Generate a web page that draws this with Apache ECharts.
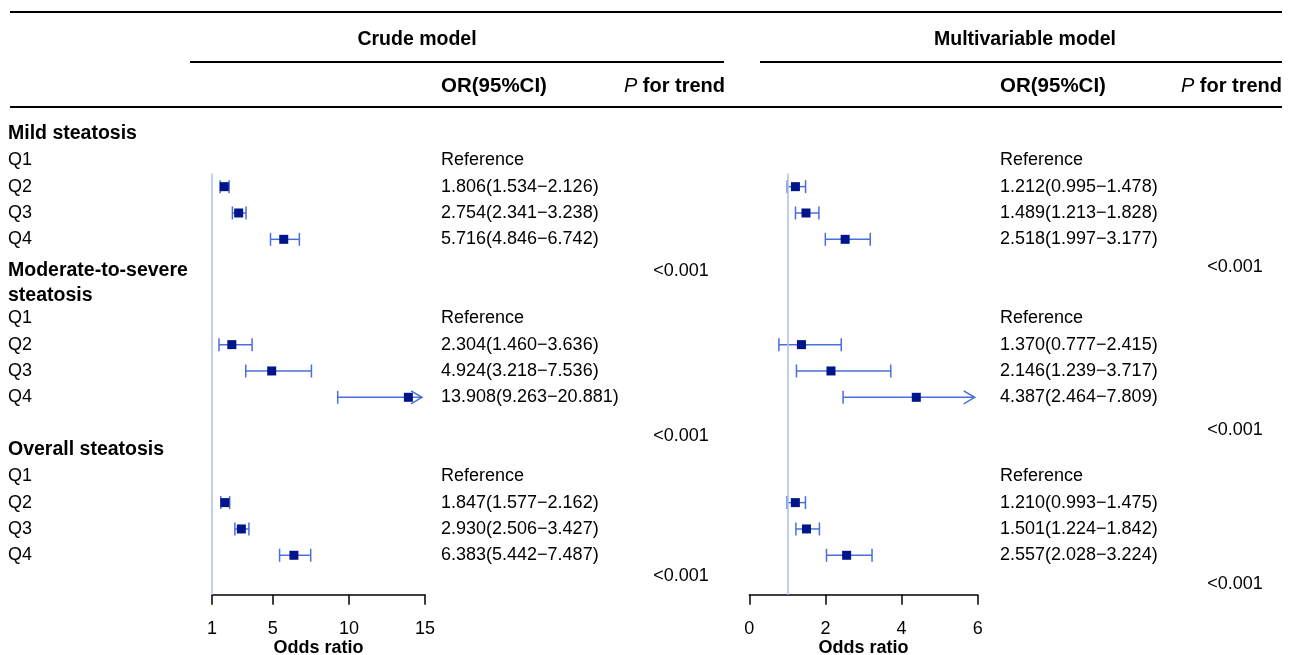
<!DOCTYPE html>
<html>
<head>
<meta charset="utf-8">
<script src="https://cdn.jsdelivr.net/npm/echarts@6/dist/echarts.min.js"></script>
<style>
  html, body { margin: 0; padding: 0; background: #fff; }
  #main { width: 1292px; height: 655px; }
</style>
</head>
<body>
<div id="main"></div>
<script>
// groups and quartiles
const groupNames = ['Mild steatosis', 'Moderate-to-severe\nsteatosis', 'Overall steatosis'];
const quartiles = ['Q1', 'Q2', 'Q3', 'Q4'];

// Q2..Q4 of each group, in order
const crudeOR   = [1.806, 2.754, 5.716, 2.304, 4.924, 13.908, 1.847, 2.930, 6.383];
const crudeLow  = [1.534, 2.341, 4.846, 1.460, 3.218, 9.263, 1.577, 2.506, 5.442];
const crudeHigh = [2.126, 3.238, 6.742, 3.636, 7.536, 20.881, 2.162, 3.427, 7.487];

const multiOR   = [1.212, 1.489, 2.518, 1.370, 2.146, 4.387, 1.210, 1.501, 2.557];
const multiLow  = [0.995, 1.213, 1.997, 0.777, 1.239, 2.464, 0.993, 1.224, 2.028];
const multiHigh = [1.478, 1.828, 3.177, 2.415, 3.717, 7.809, 1.475, 1.842, 3.224];

const pTrendCrude = ['<0.001', '<0.001', '<0.001'];
const pTrendMulti = ['<0.001', '<0.001', '<0.001'];

const crudeTicks = [1, 5, 10, 15];
const multiTicks = [0, 2, 4, 6];

// row layout (row index -> pixel)
const Y0 = 134, RH = 26.33;
const groupRows = [0, 5.66, 12];
const qRows = [[1, 2, 3, 4], [7, 8, 9, 10], [13, 14, 15, 16]];
const pRowsCrude = [5.2, 11.47, 16.8];
const pRowsMulti = [5.05, 11.24, 17.1];
const rowY = k => Y0 + k * RH;

const FONT = '"Liberation Sans", Arial, sans-serif';
const ciColor = '#4a6fdc';
const ptColor = '#00148c';
const refColor = '#a9c2ea';

const chart = echarts.init(document.getElementById('main'));

function fmt(v) { return v.toFixed(3); }

const graphics = [];
function txt(x, y, s, opts) {
  graphics.push({
    type: 'text', silent: true,
    style: Object.assign({
      x: x, y: y, text: s, fill: '#000',
      fontFamily: FONT, fontSize: 18,
      textAlign: 'left', textVerticalAlign: 'middle'
    }, opts || {})
  });
}
function hline(x1, x2, y) {
  graphics.push({
    type: 'line', silent: true,
    shape: { x1: x1, y1: y, x2: x2, y2: y },
    style: { stroke: '#000', lineWidth: 2 }
  });
}

hline(10, 1282, 12);
hline(190, 724, 62);
hline(760, 1282, 62);
hline(10, 1282, 107);

const headStyle = { fontWeight: 'bold', fontSize: 19.5 };
txt(417, 40, 'Crude model', Object.assign({ textAlign: 'center' }, headStyle));
txt(1025, 40, 'Multivariable model', Object.assign({ textAlign: 'center' }, headStyle));
txt(441, 86, 'OR(95%CI)', Object.assign({}, headStyle, { fontSize: 20.5 }));
txt(1000, 86, 'OR(95%CI)', Object.assign({}, headStyle, { fontSize: 20.5 }));
const pHead = { text: '{i|P} for trend', fontWeight: 'bold', fontSize: 20, textAlign: 'right',
  rich: { i: { fontStyle: 'italic', fontWeight: 'normal', fontFamily: FONT, fontSize: 20 } } };
txt(725, 86, '', pHead);
txt(1282, 86, '', pHead);

groupNames.forEach((g, gi) => {
  txt(8, rowY(groupRows[gi]), g, { fontWeight: 'bold', fontSize: 19.5, lineHeight: 25 });
  quartiles.forEach((q, qi) => {
    const y = rowY(qRows[gi][qi]);
    txt(8, y, q);
    if (qi === 0) {
      txt(441, y, 'Reference');
      txt(1000, y, 'Reference');
    } else {
      const i = gi * 3 + qi - 1;
      txt(441, y, fmt(crudeOR[i]) + '(' + fmt(crudeLow[i]) + '\u2212' + fmt(crudeHigh[i]) + ')');
      txt(1000, y, fmt(multiOR[i]) + '(' + fmt(multiLow[i]) + '\u2212' + fmt(multiHigh[i]) + ')');
    }
  });
  txt(681, rowY(pRowsCrude[gi]), pTrendCrude[gi], { textAlign: 'center' });
  txt(1235, rowY(pRowsMulti[gi]), pTrendMulti[gi], { textAlign: 'center' });
});

const markRows = [];
qRows.forEach(r => markRows.push(r[1], r[2], r[3]));

function ciSeries(axisIdx, low, high, xmax) {
  return {
    type: 'custom',
    xAxisIndex: axisIdx, yAxisIndex: axisIdx,
    encode: { x: [0, 1], y: 2 },
    data: low.map((l, i) => [l, high[i], markRows[i]]),
    renderItem: function (params, api) {
      const hi = api.value(1);
      const row = api.value(2);
      const clipped = hi > xmax;
      const p0 = api.coord([api.value(0), row]);
      const p1 = api.coord([Math.min(hi, xmax), row]);
      const tipX = clipped ? p1[0] - 3 : p1[0];
      const st = { stroke: ciColor, lineWidth: 1.5, fill: null };
      const c = 6.5;
      const kids = [
        { type: 'line', shape: { x1: p0[0], y1: p0[1], x2: tipX, y2: p1[1] }, style: st },
        { type: 'line', shape: { x1: p0[0], y1: p0[1] - c, x2: p0[0], y2: p0[1] + c }, style: st }
      ];
      if (clipped) {
        kids.push({ type: 'polyline', shape: { points: [[tipX - 11, p1[1] - 6.5], [tipX, p1[1]], [tipX - 11, p1[1] + 6.5]] }, style: st });
      } else {
        kids.push({ type: 'line', shape: { x1: p1[0], y1: p1[1] - c, x2: p1[0], y2: p1[1] + c }, style: st });
      }
      return { type: 'group', children: kids };
    },
    markLine: {
      silent: true, symbol: 'none', label: { show: false },
      lineStyle: { color: refColor, width: 1.5, type: 'solid' },
      data: [{ xAxis: 1 }]
    },
    z: 2
  };
}

function ptSeries(axisIdx, est) {
  return {
    type: 'scatter',
    xAxisIndex: axisIdx, yAxisIndex: axisIdx,
    symbol: 'rect', symbolSize: 9,
    itemStyle: { color: ptColor, opacity: 1 },
    data: est.map((v, i) => [v, markRows[i]]),
    z: 3
  };
}

function xAxisCfg(gi, min, max, ticks) {
  return {
    gridIndex: gi, type: 'value', min: min, max: max,
    position: 'bottom',
    axisLine: { show: true, onZero: false, lineStyle: { color: '#000', width: 1.5 } },
    axisTick: { show: true, inside: false, length: 10, customValues: ticks, lineStyle: { color: '#000', width: 1.5 } },
    axisLabel: { customValues: ticks, color: '#000', fontSize: 18, fontFamily: FONT, margin: 25 },
    splitLine: { show: false },
    name: 'Odds ratio', nameLocation: 'middle', nameGap: 44, nameMoveOverlap: false,
    nameTextStyle: { color: '#000', fontSize: 18, fontWeight: 'bold', fontFamily: FONT }
  };
}

function yAxisCfg(gi) {
  return {
    gridIndex: gi, type: 'value', min: 1.5, max: 17.5, inverse: true,
    show: false, splitLine: { show: false }
  };
}

const gridTop = rowY(1.5), gridH = 16 * RH;

chart.setOption({
  animation: false,
  textStyle: { fontFamily: FONT },
  grid: [
    { left: 212, width: 213, top: gridTop, height: gridH, containLabel: false, outerBoundsMode: 'none' },
    { left: 749.3, width: 228.4, top: gridTop, height: gridH, containLabel: false, outerBoundsMode: 'none' }
  ],
  xAxis: [xAxisCfg(0, 1, 15, crudeTicks), xAxisCfg(1, 0, 6, multiTicks)],
  yAxis: [yAxisCfg(0), yAxisCfg(1)],
  series: [
    ciSeries(0, crudeLow, crudeHigh, 15),
    ptSeries(0, crudeOR),
    ciSeries(1, multiLow, multiHigh, 6),
    ptSeries(1, multiOR)
  ],
  graphic: graphics
});
</script>
</body>
</html>
